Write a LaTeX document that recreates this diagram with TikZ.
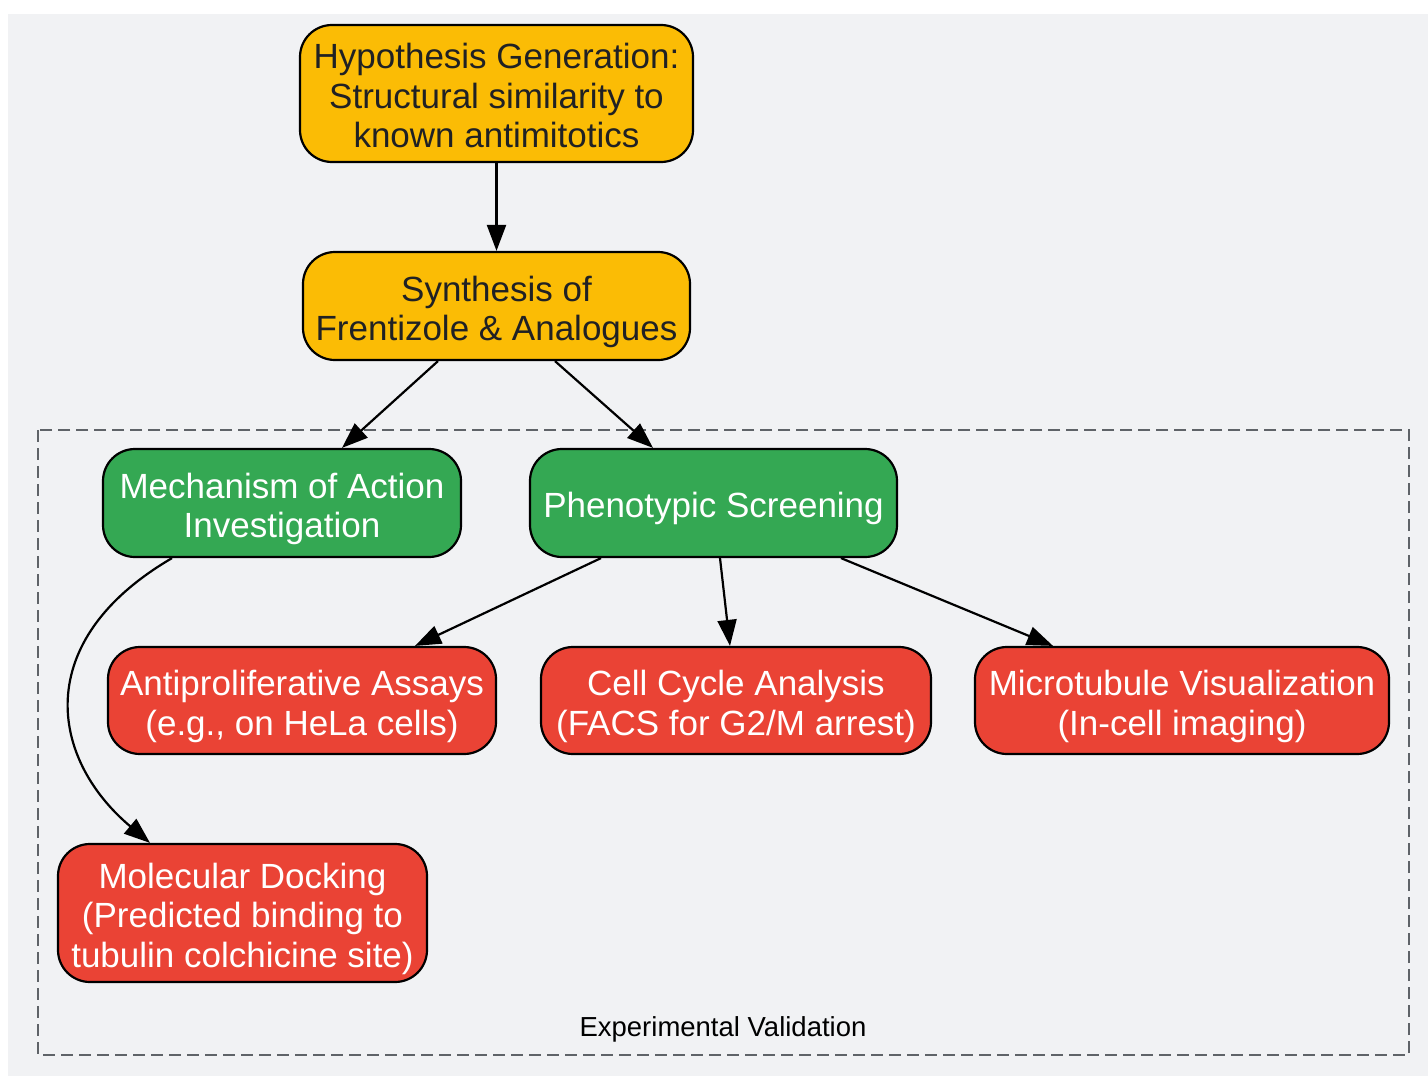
\documentclass[tikz,border=0pt]{standalone}
\usepackage{fontspec}
\setmainfont{Liberation Sans}
\usetikzlibrary{arrows.meta,calc}
\definecolor{bgc}{HTML}{F1F2F4}
\definecolor{ylw}{HTML}{FBBC05}
\definecolor{grn}{HTML}{34A853}
\definecolor{rd}{HTML}{EA4335}
\definecolor{dk}{HTML}{202124}
\definecolor{frm}{HTML}{5F6368}
\newcommand{\boxtxt}[1]{\raisebox{-7pt}[\height][\depth]{\begin{tabular}{@{}c@{}}#1\end{tabular}}}
\begin{document}
\begin{tikzpicture}[x=1pt,y=-1pt,
  box/.style={draw=black,line width=2.2pt,rounded corners=32pt,inner sep=0pt,
    font=\fontsize{35}{39.5}\selectfont},
  ybox/.style={box,fill=ylw,text=dk},
  gbox/.style={box,fill=grn,text=white},
  rbox/.style={box,fill=rd,text=white},
  conn/.style={line width=2.2pt,-{Triangle[length=26pt,width=19pt]}},
  frame/.style={draw=frm,line width=2.2pt,dash pattern=on 12pt off 6pt}]
\useasboundingbox (0,0) rectangle (1428,1076);
\fill[white] (0,0) rectangle (1428,1076);
\fill[bgc] (8,14) rectangle (1428,1076);
\draw[frame] (38,430) rectangle (1409,1055);
\node[font=\fontsize{27.5}{30}\selectfont] (lbl) at (723,1029) {Experimental Validation};

\node[ybox,minimum width=393pt,minimum height=137pt] (hyp) at (496.5,93.5)
  {\boxtxt{Hypothesis Generation:\\Structural similarity to\\known antimitotics}};
\node[ybox,minimum width=387pt,minimum height=108pt] (syn) at (496.5,306)
  {\boxtxt{Synthesis of\\Frentizole \& Analogues}};
\node[gbox,minimum width=358pt,minimum height=108pt] (mech) at (282,503)
  {\boxtxt{Mechanism of Action\\Investigation}};
\node[gbox,minimum width=367pt,minimum height=108pt] (phen) at (713.5,503)
  {\boxtxt{Phenotypic Screening}};
\node[rbox,minimum width=388pt,minimum height=107pt] (anti) at (302,700.5)
  {\boxtxt{Antiproliferative Assays\\(e.g., on HeLa cells)}};
\node[rbox,minimum width=390pt,minimum height=107pt] (cell) at (736,700.5)
  {\boxtxt{Cell Cycle Analysis\\(FACS for G2/M arrest)}};
\node[rbox,minimum width=414pt,minimum height=107pt] (micro) at (1182,700.5)
  {\boxtxt{Microtubule Visualization\\(In-cell imaging)}};
\node[rbox,minimum width=369pt,minimum height=138pt] (dock) at (242.5,913)
  {\boxtxt{Molecular Docking\\(Predicted binding to\\tubulin colchicine site)}};

\draw[conn] (hyp.south) -- (syn.north);
\draw[conn] ([xshift=-58.5pt]syn.south) -- ([xshift=60pt]mech.north);
\draw[conn] ([xshift=58.5pt]syn.south) -- ([xshift=-60.5pt]phen.north);
\draw[conn] ([xshift=-110pt]mech.south) .. controls ($(mech.south)+(-252,83)$) and ($(dock.north)+(-192.5,-84)$) .. ([xshift=-92.5pt]dock.north);
\draw[conn] ([xshift=-112.5pt]phen.south) -- ([xshift=113pt]anti.north);
\draw[conn] ([xshift=6.5pt]phen.south) -- ([xshift=-6pt]cell.north);
\draw[conn] ([xshift=127.5pt]phen.south) -- ([xshift=-129pt]micro.north);
\end{tikzpicture}
\end{document}
